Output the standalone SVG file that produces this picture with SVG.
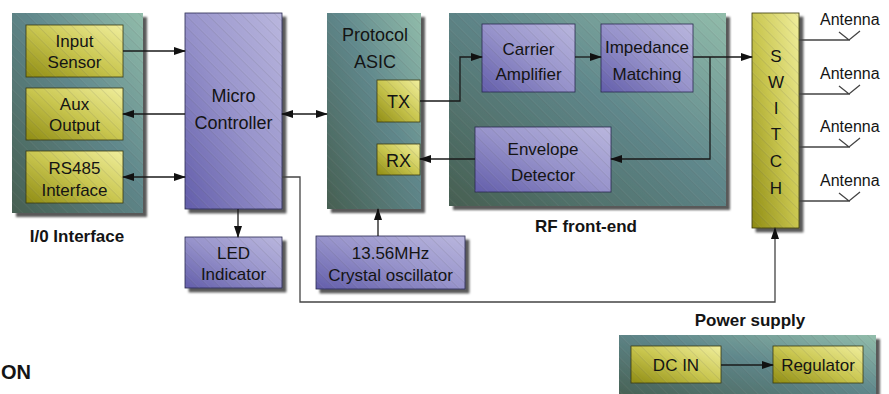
<svg xmlns="http://www.w3.org/2000/svg" width="889" height="394" viewBox="0 0 889 394">
<defs>
<linearGradient id="gTeal" x1="0" y1="1" x2="1" y2="0">
<stop offset="0" stop-color="#465f51"/><stop offset="0.55" stop-color="#5f878b"/><stop offset="1" stop-color="#92bdab"/>
</linearGradient>
<linearGradient id="gPurple" x1="0" y1="1" x2="1" y2="0">
<stop offset="0" stop-color="#625daa"/><stop offset="0.5" stop-color="#9793cb"/><stop offset="1" stop-color="#bab7de"/>
</linearGradient>
<linearGradient id="gYellow" x1="0" y1="1" x2="1" y2="0">
<stop offset="0" stop-color="#8e8b12"/><stop offset="0.5" stop-color="#c9c64f"/><stop offset="1" stop-color="#f1ef9e"/>
</linearGradient>
<pattern id="hatch" width="8" height="8" patternUnits="userSpaceOnUse" patternTransform="rotate(-45)">
<line x1="0" y1="0" x2="0" y2="8" stroke="#000" stroke-opacity="0.22" stroke-width="0.8"/>
<line x1="1" y1="0" x2="1" y2="8" stroke="#fff" stroke-opacity="0.15" stroke-width="0.6"/>
</pattern>
<filter id="shadow" x="-10%" y="-10%" width="130%" height="130%">
<feDropShadow dx="4" dy="4" stdDeviation="1.2" flood-color="#000" flood-opacity="0.65"/>
</filter>
<marker id="arr" markerWidth="12" markerHeight="8" refX="11" refY="4" orient="auto-start-reverse" markerUnits="userSpaceOnUse">
<path d="M0,0 L12,4 L0,8 Z" fill="#111"/>
</marker>
</defs>
<style>
text{font-family:"Liberation Sans",Arial,sans-serif;fill:#141414;text-anchor:middle}
.t{font-size:17px}
.tb{font-size:18px}
.lbl{font-size:17px;font-weight:bold}
.ant{font-size:16px;text-anchor:start}
.cont{fill:url(#gTeal);filter:url(#shadow)}
.pur{fill:url(#gPurple);stroke:#2a2a50;stroke-width:0.8}
.yel{fill:url(#gYellow);stroke:#3a3a10;stroke-width:0.8}
.sh{filter:url(#shadow)}
.h{fill:url(#hatch)}
.c{fill:none;stroke:#1a1a1a;stroke-width:1.3}
.p{fill:none;stroke:#444;stroke-width:1.3}
</style>

<g id="io-interface">
<rect class="cont" x="12" y="13" width="131" height="200"/>
<rect class="h" x="12" y="13" width="131" height="200"/>
<text class="lbl" x="77" y="242">I/0 Interface</text>
</g>
<g id="input-sensor">
<rect class="yel" x="26" y="25" width="97" height="52"/><rect class="h" x="26" y="25" width="97" height="52"/>
<text class="t" x="74.5" y="47">Input</text><text class="t" x="74.5" y="68">Sensor</text>
</g>
<g id="aux-output">
<rect class="yel" x="26" y="88" width="97" height="52"/><rect class="h" x="26" y="88" width="97" height="52"/>
<text class="t" x="74.5" y="110">Aux</text><text class="t" x="74.5" y="131">Output</text>
</g>
<g id="rs485">
<rect class="yel" x="26" y="151" width="97" height="52"/><rect class="h" x="26" y="151" width="97" height="52"/>
<text class="t" x="74.5" y="174">RS485</text><text class="t" x="74.5" y="196">Interface</text>
</g>

<g id="micro-controller">
<rect class="pur sh" x="185" y="13" width="97" height="196"/><rect class="h" x="185" y="13" width="97" height="196"/>
<text class="tb" x="233.5" y="102">Micro</text><text class="tb" x="233.5" y="129">Controller</text>
</g>
<g id="led-indicator">
<rect class="pur sh" x="185" y="237" width="97" height="51"/><rect class="h" x="185" y="237" width="97" height="51"/>
<text class="t" x="233.5" y="259">LED</text><text class="t" x="233.5" y="280">Indicator</text>
</g>

<g id="protocol-asic">
<rect class="cont" x="327" y="13" width="94" height="196"/><rect class="h" x="327" y="13" width="94" height="196"/>
<text class="tb" x="375" y="41">Protocol</text><text class="tb" x="375" y="68">ASIC</text>
</g>
<g id="tx">
<rect class="yel" x="377" y="80" width="43" height="42"/><rect class="h" x="377" y="80" width="43" height="42"/>
<text class="tb" x="398.5" y="108">TX</text>
</g>
<g id="rx">
<rect class="yel" x="377" y="144" width="43" height="31"/><rect class="h" x="377" y="144" width="43" height="31"/>
<text class="tb" x="398.5" y="167">RX</text>
</g>
<g id="crystal-oscillator">
<rect class="pur sh" x="316" y="236" width="149" height="53"/><rect class="h" x="316" y="236" width="149" height="53"/>
<text class="t" x="390.5" y="259">13.56MHz</text><text class="t" x="390.5" y="281">Crystal oscillator</text>
</g>

<g id="rf-front-end">
<rect class="cont" x="449" y="13" width="277" height="193"/><rect class="h" x="449" y="13" width="277" height="193"/>
<text class="lbl" x="586" y="232">RF front-end</text>
</g>
<g id="carrier-amplifier">
<rect class="pur" x="482" y="24" width="93" height="68"/><rect class="h" x="482" y="24" width="93" height="68"/>
<text class="t" x="528.5" y="55">Carrier</text><text class="t" x="528.5" y="80">Amplifier</text>
</g>
<g id="impedance-matching">
<rect class="pur" x="601" y="24" width="92" height="68"/><rect class="h" x="601" y="24" width="92" height="68"/>
<text class="t" x="647" y="53">Impedance</text><text class="t" x="647" y="80">Matching</text>
</g>
<g id="envelope-detector">
<rect class="pur" x="475" y="127" width="136" height="65"/><rect class="h" x="475" y="127" width="136" height="65"/>
<text class="t" x="543" y="155">Envelope</text><text class="t" x="543" y="181">Detector</text>
</g>

<g id="switch">
<rect class="yel sh" x="752" y="13" width="47" height="215"/><rect class="h" x="752" y="13" width="47" height="215"/>
<text class="t" x="776" y="62">S</text><text class="t" x="776" y="88">W</text><text class="t" x="776" y="114">I</text>
<text class="t" x="776" y="140">T</text><text class="t" x="776" y="167">C</text><text class="t" x="776" y="194">H</text>
</g>

<g id="antennas">
<text class="ant" x="820" y="25">Antenna</text>
<text class="ant" x="820" y="79">Antenna</text>
<text class="ant" x="820" y="132">Antenna</text>
<text class="ant" x="820" y="186">Antenna</text>
<path class="p" d="M799,40 H850 M839,32 L849,40 L860,31 M799,94 H850 M839,86 L849,94 L860,85 M799,147 H850 M839,139 L849,147 L860,138 M799,201 H850 M839,193 L849,201 L860,192"/>
</g>

<g id="power-supply">
<rect class="cont" x="619" y="335" width="257" height="64"/><rect class="h" x="619" y="335" width="257" height="64"/>
<text class="lbl" x="750" y="326">Power supply</text>
</g>
<g id="dc-in">
<rect class="yel" x="631" y="346" width="90" height="37"/><rect class="h" x="631" y="346" width="90" height="37"/>
<text class="t" x="676" y="371">DC IN</text>
</g>
<g id="regulator">
<rect class="yel" x="773" y="346" width="90" height="37"/><rect class="h" x="773" y="346" width="90" height="37"/>
<text class="t" x="818" y="371">Regulator</text>
</g>

<text x="1" y="379" style="font-size:20px;font-weight:bold;text-anchor:start">ON</text>

<g id="connectors">
<path class="c" d="M123,51 H185" marker-end="url(#arr)"/>
<path class="c" d="M185,114 H123" marker-end="url(#arr)"/>
<path class="c" d="M123,177 H185" marker-start="url(#arr)" marker-end="url(#arr)"/>
<path class="c" d="M282,114 H327" marker-start="url(#arr)" marker-end="url(#arr)"/>
<path class="c" d="M238,209 V237" marker-end="url(#arr)"/>
<path class="c" d="M378,236 V209" marker-end="url(#arr)"/>
<path class="c" d="M420,101 H460 V57 H482" marker-end="url(#arr)"/>
<path class="c" d="M575,57 H601" marker-end="url(#arr)"/>
<path class="c" d="M693,57 H752" marker-end="url(#arr)"/>
<path class="c" d="M710,57 V159 H611" marker-end="url(#arr)"/>
<path class="c" d="M475,159 H420" marker-end="url(#arr)"/>
<path class="p" d="M282,177 H300 V302 H775 V228" marker-end="url(#arr)"/>
<path class="c" d="M721,365 H773" marker-end="url(#arr)"/>
</g>
</svg>
